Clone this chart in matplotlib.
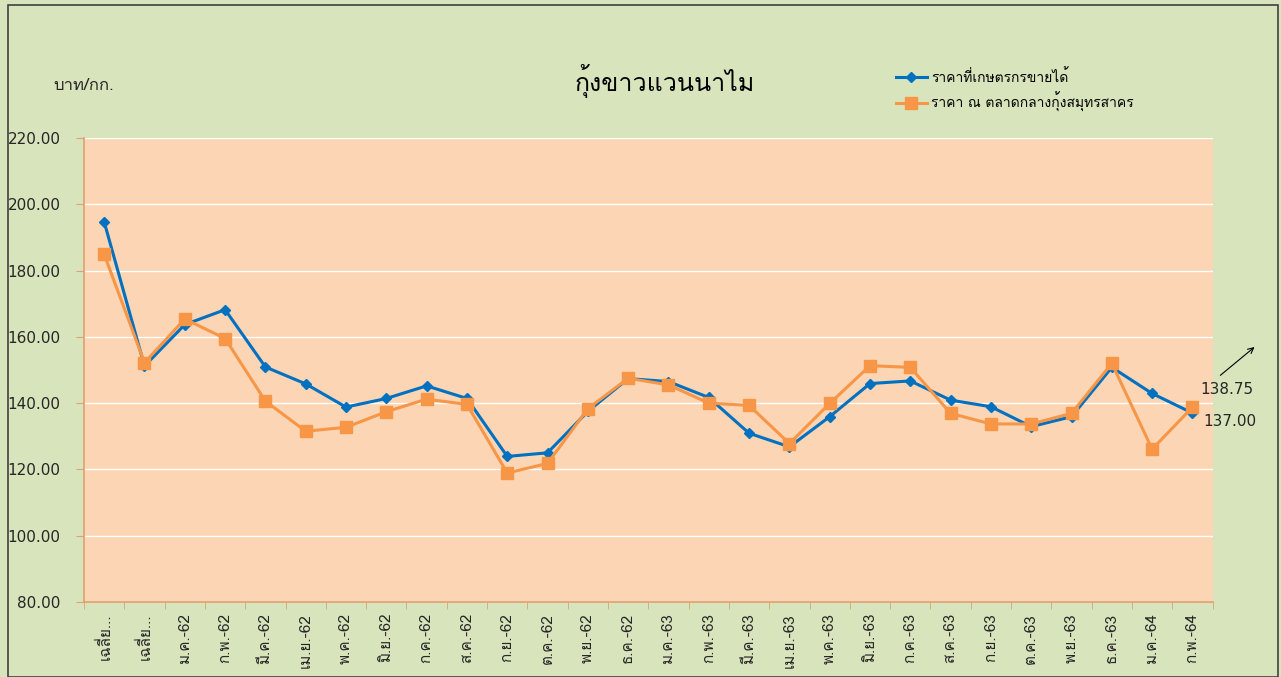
import numpy as np
import matplotlib
matplotlib.use("Agg")
import matplotlib.pyplot as plt
from matplotlib import font_manager
from matplotlib.ft2font import FT2Font

# data
months = ["เฉลี่ย...", "เฉลี่ย...", "ม.ค.-62", "ก.พ.-62", "มี.ค.-62", "เม.ย.-62", "พ.ค.-62",
          "มิ.ย.-62", "ก.ค.-62", "ส.ค.-62", "ก.ย.-62", "ต.ค.-62", "พ.ย.-62", "ธ.ค.-62",
          "ม.ค.-63", "ก.พ.-63", "มี.ค.-63", "เม.ย.-63", "พ.ค.-63", "มิ.ย.-63", "ก.ค.-63",
          "ส.ค.-63", "ก.ย.-63", "ต.ค.-63", "พ.ย.-63", "ธ.ค.-63", "ม.ค.-64", "ก.พ.-64"]
farm_price = [194.7, 151.2, 163.7, 168.2, 150.9, 145.8, 138.8, 141.4, 145.2, 141.4,
              123.9, 125.0, 137.5, 147.4, 146.5, 141.7, 130.9, 126.8, 135.9, 145.9,
              146.7, 140.9, 138.9, 132.9, 135.9, 150.8, 142.9, 137.00]
market_price = [184.9, 152.2, 165.4, 159.5, 140.6, 131.5, 132.7, 137.4, 141.2, 139.6,
                118.9, 121.8, 138.3, 147.5, 145.5, 140.0, 139.3, 127.8, 139.9, 151.3,
                150.8, 136.9, 133.7, 133.7, 136.9, 152.0, 126.1, 138.75]
yticks = [80, 100, 120, 140, 160, 180, 200, 220]


# find an installed font that has Thai glyphs
def thai_font():
    for f in font_manager.fontManager.ttflist:
        try:
            if FT2Font(f.fname).get_char_index(ord("ก")):
                return f.name
        except Exception:
            pass
    return "DejaVu Sans"


tf = thai_font()
plt.rcParams["font.family"] = [tf, "DejaVu Sans"]
txt = "#262626"

bg = "#D8E4BC"
fig = plt.figure(figsize=(12.81, 6.77), dpi=100, facecolor=bg)
ax = fig.add_axes([0.0656, 0.111, 0.881, 0.685])
ax.set_facecolor("#FCD5B4")

x = np.arange(len(months))
l1, = ax.plot(x, farm_price, color="#0070C0", lw=2.2, marker="D", ms=5, zorder=3)
l2, = ax.plot(x, market_price, color="#F79646", lw=2.2, marker="s", ms=8, zorder=4)

ax.set_xlim(-0.5, len(months) - 0.5)
ax.set_ylim(80, 220)
ax.set_yticks(yticks)
ax.set_yticklabels(["%.2f" % v for v in yticks], fontsize=11, family="DejaVu Sans", color=txt)
ax.set_xticks(x)
ax.set_xticklabels(months, rotation=90, fontsize=11, color=txt)
ax.set_xticks(np.arange(len(months) + 1) - 0.5, minor=True)
ax.tick_params(axis="x", which="major", length=0, pad=8)
ax.tick_params(axis="x", which="minor", length=5, color="#E0A070", direction="out")
ax.tick_params(axis="y", length=6, color="#E0A070", direction="out", pad=11)
ax.grid(axis="y", color="white", lw=1)
ax.set_axisbelow(True)
for s in ["top", "right"]:
    ax.spines[s].set_visible(False)
for s in ["left", "bottom"]:
    ax.spines[s].set_color("#E0A070")
    ax.spines[s].set_linewidth(1.2)

fig.text(0.519, 0.88, "กุ้งขาวแวนนาไม", ha="center", va="center", fontsize=18, color="black")
fig.text(0.042, 0.873, "บาท/กก.", ha="left", va="center", fontsize=12, color=txt)
fig.legend([l1, l2], ["ราคาที่เกษตรกรขายได้", "ราคา ณ ตลาดกลางกุ้งสมุทรสาคร"],
           loc="upper left", bbox_to_anchor=(0.692, 0.912), frameon=False, fontsize=10,
           handlelength=2.2, handletextpad=0.3, labelspacing=0.5, borderpad=0.2)

# end labels and arrow
fig.text(0.937, 0.424, "%.2f" % market_price[-1], ha="left", va="center", fontsize=11,
         family="DejaVu Sans", color=txt)
fig.text(0.939, 0.378, "%.2f" % farm_price[-1], ha="left", va="center", fontsize=11,
         family="DejaVu Sans", color=txt)
ax.annotate("", xy=(0.981, 0.49), xytext=(0.951, 0.443), xycoords="figure fraction",
            arrowprops=dict(arrowstyle="->", color="black", lw=0.8))

# frame round the whole chart
fig.patches.append(plt.Rectangle((0.006, 0.0), 0.992, 0.992, transform=fig.transFigure,
                                 fill=False, edgecolor="#404040", lw=1.2))

fig.savefig("out.png", dpi=100, facecolor=bg)
